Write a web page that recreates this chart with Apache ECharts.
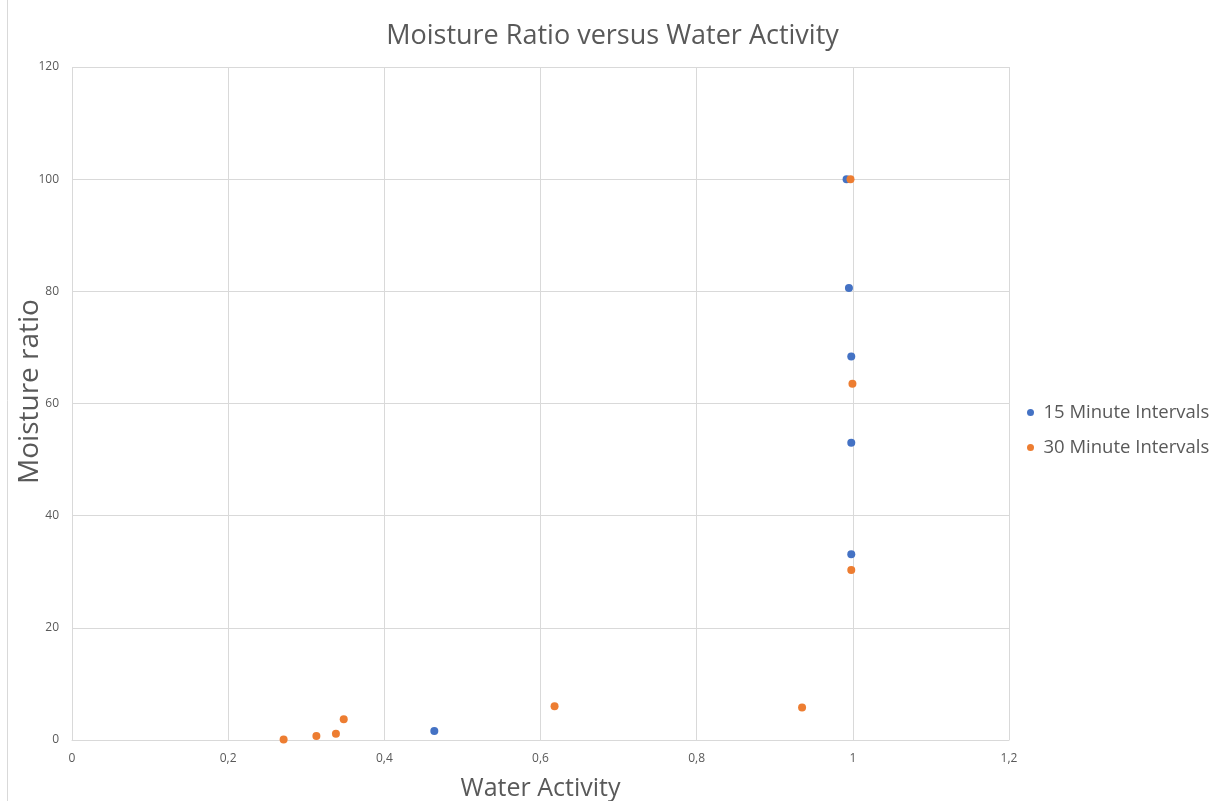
<!DOCTYPE html>
<html><head><meta charset="utf-8">
<script src="https://cdn.jsdelivr.net/npm/echarts@6/dist/echarts.min.js"></script>
<style>html,body{margin:0;padding:0;background:#fff}#c{width:1225px;height:801px}</style>
</head><body><div id="c"></div>
<script>
const seriesNames = ['15 Minute Intervals', '30 Minute Intervals'];
const water15 = [0.992, 0.995, 0.998, 0.998, 0.998, 0.464];
const moist15 = [100, 80.6, 68.4, 53.0, 33.1, 1.6];
const water30 = [0.997, 0.9995, 0.998, 0.271, 0.313, 0.338, 0.348, 0.618, 0.935];
const moist30 = [100, 63.5, 30.3, 0.1, 0.7, 1.1, 3.7, 6.0, 5.8];
const xTicks = [0, 0.2, 0.4, 0.6, 0.8, 1, 1.2];
const yTicks = [0, 20, 40, 60, 80, 100, 120];

const FONT = '"Open Sans", "Noto Sans", sans-serif';
const pairs = (xs, ys) => xs.map((x, i) => [x, ys[i]]);
const chart = echarts.init(document.getElementById('c'));
chart.setOption({
  animation: false,
  backgroundColor: '#fff',
  textStyle: { fontFamily: FONT },
  title: {
    text: 'Moisture Ratio versus Water Activity',
    left: 'center', top: 18,
    textStyle: { fontFamily: FONT, fontSize: 27, fontWeight: 'normal', color: '#595959' }
  },
  legend: {
    orient: 'vertical', left: 1022, top: 398,
    itemWidth: 16, itemHeight: 7, itemGap: 16,
    icon: 'circle',
    textStyle: { fontFamily: FONT, fontSize: 18.5, color: '#595959' },
    data: seriesNames
  },
  grid: { left: 72, right: 216, top: 67, bottom: 61, containLabel: false, outerBoundsMode: 'none' },
  xAxis: {
    type: 'value', min: xTicks[0], max: xTicks[xTicks.length - 1], interval: 0.2,
    name: 'Water Activity', nameLocation: 'middle', nameGap: 36, nameMoveOverlap: false,
    nameTextStyle: { fontFamily: FONT, fontSize: 25, color: '#595959' },
    axisLine: { show: true, lineStyle: { color: '#d9d9d9' } },
    axisTick: { show: false },
    axisLabel: { fontSize: 12, color: '#595959', margin: 13,
      formatter: v => String(+v.toFixed(1)).replace('.', ',') },
    splitLine: { show: true, lineStyle: { color: '#d9d9d9' } }
  },
  yAxis: {
    type: 'value', min: yTicks[0], max: yTicks[yTicks.length - 1], interval: 20,
    name: 'Moisture ratio', nameLocation: 'middle', nameGap: 28, nameRotate: 90, nameMoveOverlap: false,
    nameTextStyle: { fontFamily: FONT, fontSize: 28, color: '#595959', padding: [0, 0, 0, 24] },
    axisLine: { show: false },
    axisTick: { show: false },
    axisLabel: { fontSize: 12, color: '#595959', margin: 13 },
    splitLine: { show: true, lineStyle: { color: '#d9d9d9' } }
  },
  graphic: [
    { type: 'line', shape: { x1: 7.5, y1: 0, x2: 7.5, y2: 801 }, style: { stroke: '#d9d9d9', lineWidth: 1 } },
    { type: 'line', shape: { x1: 1009.5, y1: 67, x2: 1009.5, y2: 740 }, style: { stroke: '#d9d9d9', lineWidth: 1 } }
  ],
  series: [
    { name: seriesNames[0], type: 'scatter', symbol: 'circle', symbolSize: 8,
      itemStyle: { color: '#4472C4', opacity: 1 }, data: pairs(water15, moist15) },
    { name: seriesNames[1], type: 'scatter', symbol: 'circle', symbolSize: 8,
      itemStyle: { color: '#ED7D31', opacity: 1 }, data: pairs(water30, moist30) }
  ]
});
</script></body></html>
